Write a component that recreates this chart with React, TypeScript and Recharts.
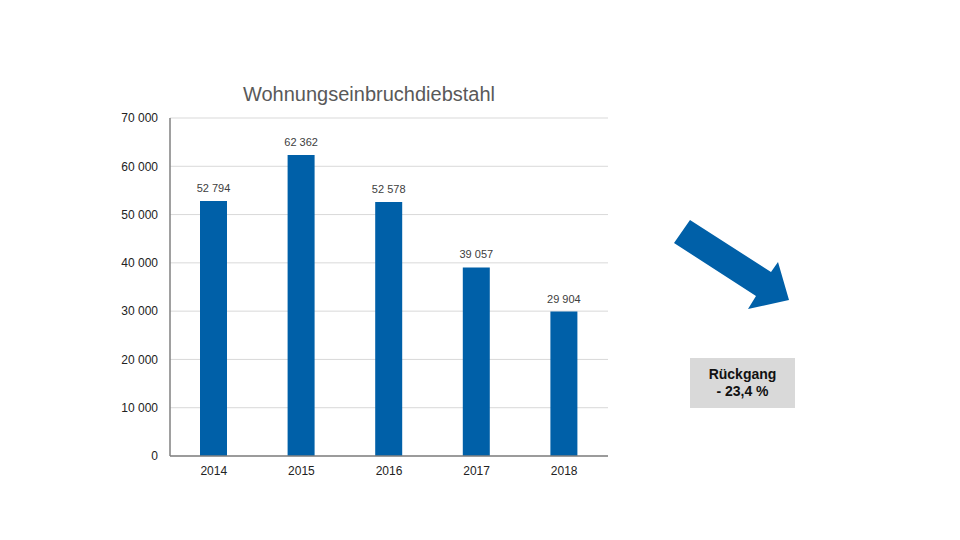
import React from 'react';
import { BarChart, Bar, XAxis, YAxis, CartesianGrid, LabelList } from 'recharts';

const years = ['2014', '2015', '2016', '2017', '2018'];
const cases = [52794, 62362, 52578, 39057, 29904];
const yTicks = [0, 10000, 20000, 30000, 40000, 50000, 60000, 70000];

const data = years.map((year, i) => ({ year, value: cases[i] }));

// thousands separated by a space; the label version uses a non-breaking one so it won't wrap
const fmt = (v: number) => String(v).replace(/\B(?=(\d{3})+(?!\d))/g, ' ');
const fmtLabel = (v: number) => String(v).replace(/\B(?=(\d{3})+(?!\d))/g, '\u00A0');

const App: React.FC = () => {
  return (
    <div style={{ position: 'relative', width: 960, height: 540, margin: -8, background: '#fff', fontFamily: '"Liberation Sans", Arial, sans-serif' }}>
      <div style={{ position: 'absolute', left: 170, width: 398, top: 83, textAlign: 'center', fontSize: 20, color: '#595959' }}>
        Wohnungseinbruchdiebstahl
      </div>
      <BarChart
        width={960}
        height={540}
        data={data}
        margin={{ top: 118, right: 352, left: 120, bottom: 54 }}
      >
        <CartesianGrid vertical={false} stroke="#d9d9d9" />
        <XAxis
          dataKey="year"
          height={30}
          tickLine={false}
          tickSize={0}
          tickMargin={10}
          stroke="#808080"
          strokeWidth={1.5}
          tick={{ fill: '#222', fontSize: 12 }}
        />
        <YAxis
          width={50}
          domain={[0, 70000]}
          ticks={yTicks}
          interval={0}
          tickLine={false}
          tickSize={0}
          tickMargin={12}
          stroke="#808080"
          strokeWidth={1.5}
          tickFormatter={fmt}
          tick={{ fill: '#222', fontSize: 12 }}
        />
        <Bar dataKey="value" fill="#0060a8" barSize={27} isAnimationActive={false}>
          <LabelList dataKey="value" position="top" offset={9} formatter={(v: any) => fmtLabel(v)} fill="#404040" fontSize={11} />
        </Bar>
      </BarChart>
      <svg style={{ position: 'absolute', left: 0, top: 0 }} width={960} height={540}>
        <polygon points="690,220 771,272 778,262 789,300 748,309 756,296 674,243" fill="#0060a8" />
      </svg>
      <div style={{ position: 'absolute', left: 690, top: 358, width: 105, height: 50, background: '#d9d9d9', display: 'flex', flexDirection: 'column', alignItems: 'center', justifyContent: 'center', fontWeight: 'bold', fontSize: 14, color: '#111', lineHeight: '17px' }}>
        <div>Rückgang</div>
        <div>- 23,4 %</div>
      </div>
    </div>
  );
};

export default App;
